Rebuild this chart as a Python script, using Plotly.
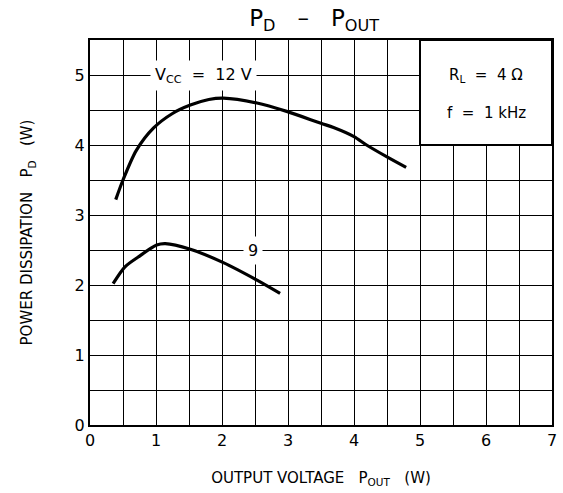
import plotly.graph_objects as go

# Data
x_12v = [0.39, 0.50, 0.70, 0.96, 1.25, 1.52, 1.80, 2.02, 2.53, 2.98, 3.50, 3.69, 4.00, 4.19, 4.50, 4.79]
y_12v = [3.22, 3.50, 3.92, 4.24, 4.45, 4.57, 4.65, 4.67, 4.60, 4.48, 4.31, 4.25, 4.12, 4.00, 3.83, 3.68]

x_9v = [0.35, 0.53, 0.73, 1.01, 1.14, 1.52, 2.02, 2.53, 2.88]
y_9v = [2.02, 2.26, 2.40, 2.57, 2.59, 2.51, 2.32, 2.07, 1.88]

x_ticks = [0, 1, 2, 3, 4, 5, 6, 7]
y_ticks = [0, 1, 2, 3, 4, 5]

FONT = "DejaVu Sans"

fig = go.Figure()
for xs, ys in [(x_12v, y_12v), (x_9v, y_9v)]:
    fig.add_trace(go.Scatter(x=xs, y=ys, mode="lines",
                             line=dict(color="black", width=3.2, shape="spline", smoothing=0.8),
                             showlegend=False, hoverinfo="skip"))

axis_common = dict(
    showline=True, linecolor="black", linewidth=2, mirror=True,
    showgrid=True, gridcolor="black", gridwidth=1,
    minor=dict(dtick=0.5, showgrid=True, gridcolor="black", gridwidth=1),
    zeroline=False, ticks="", automargin=False, fixedrange=True,
    tickfont=dict(family=FONT, size=16, color="black"),
)

fig.update_xaxes(range=[0, 7], tickvals=x_ticks, **axis_common,
                 title=dict(text="OUTPUT VOLTAGE   P<sub>OUT</sub>   (W)",
                            font=dict(family=FONT, size=15, color="black"), standoff=23))
fig.update_yaxes(range=[0, 5.5], tickvals=y_ticks, **axis_common,
                 title=dict(text="POWER DISSIPATION   P<sub>D</sub>   (W)",
                            font=dict(family=FONT, size=15, color="black"), standoff=38))

# Condition box (top right)
fig.add_shape(type="rect", x0=5, x1=7, y0=4, y1=5.5, xref="x", yref="y",
              fillcolor="white", line=dict(color="black", width=2), layer="above")

fig.add_annotation(x=6, y=5.0, text="R<sub>L</sub>  =  4 Ω", showarrow=False,
                   font=dict(family=FONT, size=15, color="black"))
fig.add_annotation(x=6, y=4.46, text="f  =  1 kHz", showarrow=False,
                   font=dict(family=FONT, size=15, color="black"))

fig.add_annotation(x=1.72, y=5.0, text="V<sub>CC</sub>  =  12 V", showarrow=False,
                   bgcolor="white", borderpad=4,
                   font=dict(family=FONT, size=16, color="black"))
fig.add_annotation(x=2.47, y=2.5, text="9", showarrow=False,
                   bgcolor="white", borderpad=4,
                   font=dict(family=FONT, size=16, color="black"))

fig.update_layout(
    width=563, height=493,
    margin=dict(l=90, r=11, t=40, b=68),
    paper_bgcolor="white", plot_bgcolor="white",
    hovermode=False,
    title=dict(text="P<sub>D</sub>   –   P<sub>OUT</sub>", x=0.558, xanchor="center",
               y=0.963, yanchor="middle",
               font=dict(family=FONT, size=23, color="black")),
)

fig.write_html("out.html", config={"displayModeBar": False, "staticPlot": True},
               post_script="document.body.style.margin='0';document.body.style.padding='0';")
